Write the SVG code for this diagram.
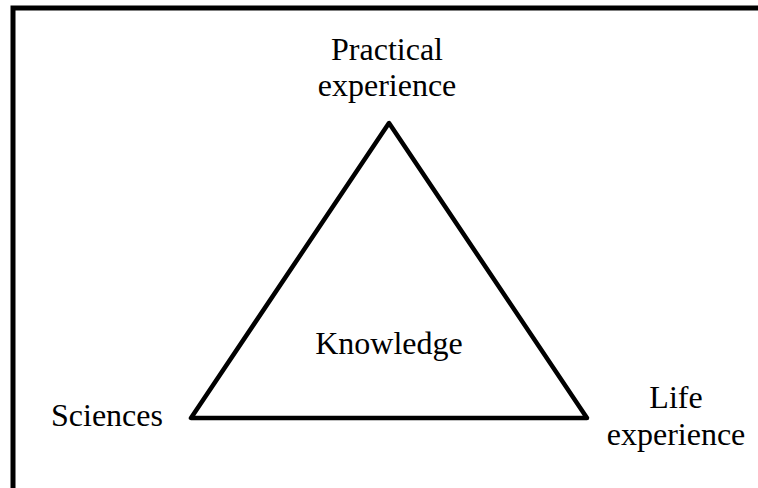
<svg xmlns="http://www.w3.org/2000/svg" width="758" height="488" viewBox="0 0 758 488">
<style>
.t{font-family:"Liberation Serif","Times New Roman",serif;font-size:32px;fill:#000;text-anchor:middle}
.frame{fill:none;stroke:#000;stroke-width:5}
.tri{fill:none;stroke:#000;stroke-width:4.5;stroke-linejoin:round}
</style>
<rect x="0" y="0" width="758" height="488" fill="#fff"/>
<rect class="frame" x="13" y="8" width="760" height="500"/>
<g id="connectors">
<polygon class="tri" points="389,123 191,418 587,418"/>
</g>
<g id="practical">
<text class="t" x="387" y="60">Practical</text>
<text class="t" x="387" y="96">experience</text>
</g>
<g id="knowledge"><text class="t" x="389" y="354">Knowledge</text></g>
<g id="sciences"><text class="t" x="107" y="426">Sciences</text></g>
<g id="life">
<text class="t" x="676" y="408">Life</text>
<text class="t" x="676" y="445">experience</text>
</g>
</svg>
